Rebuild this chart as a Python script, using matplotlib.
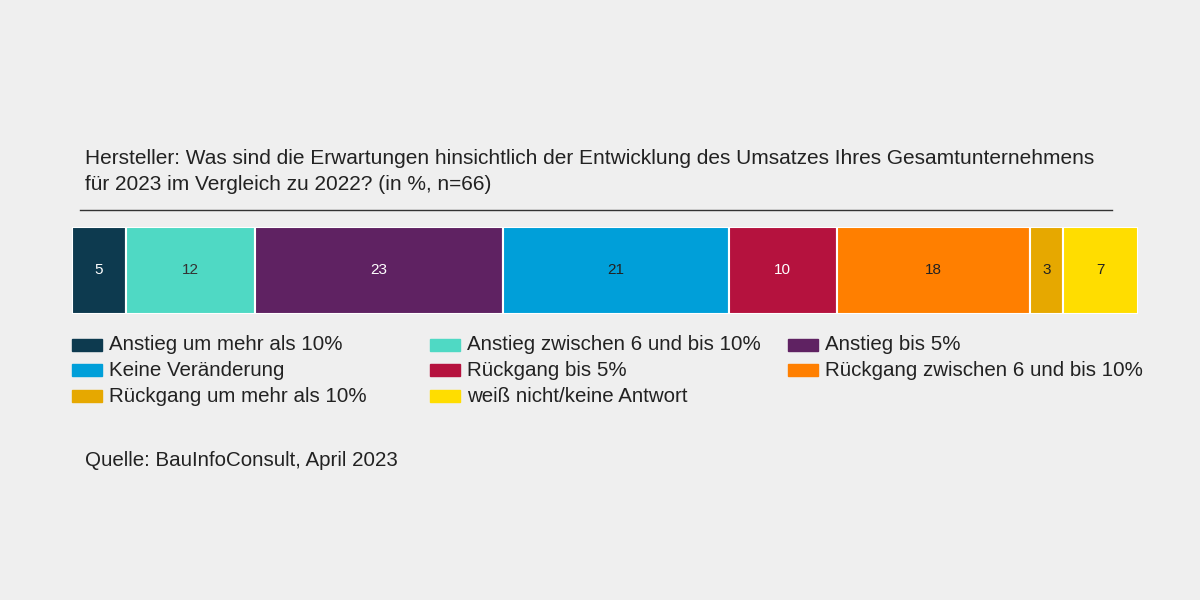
import matplotlib.pyplot as plt
import numpy as np
from matplotlib.patches import Rectangle

categories = ["Anstieg um mehr als 10%", "Anstieg zwischen 6 und bis 10%", "Anstieg bis 5%",
              "Keine Veränderung", "Rückgang bis 5%", "Rückgang zwischen 6 und bis 10%",
              "Rückgang um mehr als 10%", "weiß nicht/keine Antwort"]
values = [5, 12, 23, 21, 10, 18, 3, 7]
colors = ["#0d3a4f", "#4fd9c4", "#5f2262", "#009fd9", "#b5123e", "#ff7f00", "#e6a800", "#ffdd00"]
label_colors = ["white", "#333333", "white", "#222222", "white", "#222222", "#222222", "#222222"]

W, H = 1200, 600
bg = "#efefef"
fig = plt.figure(figsize=(12, 6), dpi=100, facecolor=bg)
plt.rcParams["font.family"] = ["Liberation Sans", "DejaVu Sans"]

def fx(px):
    return px / W

def fy(py):
    return 1 - py / H

# title and rule
fig.text(fx(85), fy(158), "Hersteller: Was sind die Erwartungen hinsichtlich der Entwicklung des Umsatzes Ihres Gesamtunternehmens",
         fontsize=15, color="#222222", va="center")
fig.text(fx(85), fy(185), "für 2023 im Vergleich zu 2022? (in %, n=66)", fontsize=15, color="#222222", va="center")
fig.add_artist(plt.Line2D([fx(80), fx(1112)], [fy(210), fy(210)], color="#333333", lw=1))

# stacked bar
ax = fig.add_axes([fx(72), fy(314), fx(1066), 87 / H])
left = np.concatenate([[0], np.cumsum(values)[:-1]])
ax.barh([0], values, left=left, color=colors, height=1, edgecolor="white", linewidth=1.5)
for l, v, c in zip(left, values, label_colors):
    ax.text(l + v / 2, 0, str(v), ha="center", va="center", fontsize=11, color=c)
ax.set_xlim(0, sum(values))
ax.set_ylim(-0.5, 0.5)
ax.axis("off")

# legend
col_x = [72, 430, 788]
row_y = [345, 370, 396]
for i, (cat, col) in enumerate(zip(categories, colors)):
    x = col_x[i % 3]
    y = row_y[i // 3]
    fig.add_artist(Rectangle((fx(x), fy(y + 6)), fx(30), 12 / H, color=col, transform=fig.transFigure))
    fig.text(fx(x + 37), fy(y), cat, fontsize=14.8, color="#222222", va="center")

fig.text(fx(85), fy(460), "Quelle: BauInfoConsult, April 2023", fontsize=14.8, color="#222222", va="center")

fig.savefig("out.png", dpi=100, facecolor=bg)
